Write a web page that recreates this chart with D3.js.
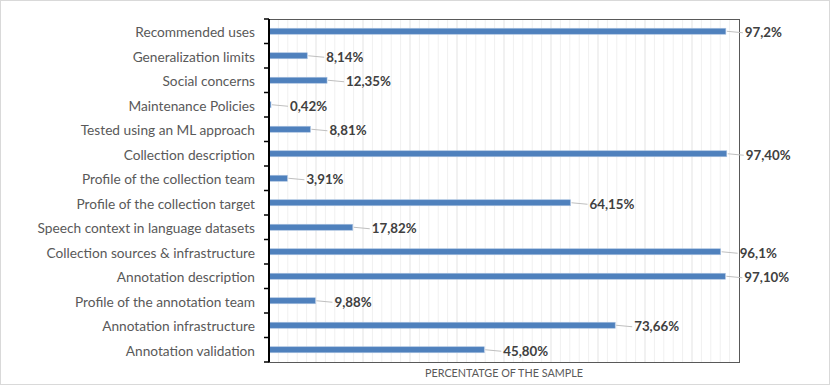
<!DOCTYPE html>
<html><head><meta charset="utf-8">
<script src="https://cdn.jsdelivr.net/npm/d3@7"></script>
<style>body{margin:0;background:#fff}svg{display:block}</style>
</head><body>
<svg id="c" width="830" height="386"></svg>
<script>
const categories = ["Recommended uses","Generalization limits","Social concerns","Maintenance Policies","Tested using an ML approach","Collection description","Profile of the collection team ","Profile of the collection target","Speech context in language datasets","Collection sources & infrastructure","Annotation description","Profile of the annotation team","Annotation infrastructure","Annotation validation"];
const values = [97.2,8.14,12.35,0.42,8.81,97.40,3.91,64.15,17.82,96.1,97.10,9.88,73.66,45.80];
const valueLabels = ["97,2%","8,14%","12,35%","0,42%","8,81%","97,40%","3,91%","64,15%","17,82%","96,1%","97,10%","9,88%","73,66%","45,80%"];
const axisTitle = "PERCENTATGE OF THE SAMPLE";

const svg = d3.select("#c");
const W=830,H=386;
const m={left:269,right:739,top:19,bottom:362};
const font="Lato, 'Open Sans', sans-serif";

svg.append("rect").attr("x",0.5).attr("y",0.5).attr("width",W-1).attr("height",H-2)
  .attr("fill","#fff").attr("stroke","#d9d9d9");

const x=d3.scaleLinear().domain([0,100]).range([m.left,m.right]);
const y=d3.scaleBand().domain(categories).range([m.top,m.bottom]);

// gridlines
const minor=d3.range(2,100,2);
svg.append("g").selectAll("line").data(minor).join("line")
  .attr("x1",d=>x(d)).attr("x2",d=>x(d)).attr("y1",m.top).attr("y2",m.bottom)
  .attr("stroke",d=>d%10===0?"#e3e3e3":"#f0f0f0").attr("stroke-width",1);

// plot border
svg.append("rect").attr("x",m.left).attr("y",m.top+0.5).attr("width",m.right-m.left+0.5).attr("height",m.bottom-m.top)
  .attr("fill","none").attr("stroke","#595959").attr("stroke-width",1);

// bars
const bh=6;
svg.append("g").selectAll("rect").data(values).join("rect")
  .attr("x",x(0)).attr("y",(d,i)=>y(categories[i])+y.bandwidth()/2-bh/2)
  .attr("width",d=>x(d)-x(0)).attr("height",bh)
  .attr("fill","#4f81bd").attr("stroke","#a9c1e0").attr("stroke-width",0.6);

// leader lines and labels
const gap=19;
const lg=svg.append("g");
values.forEach((v,i)=>{
  const cy=y(categories[i])+y.bandwidth()/2;
  lg.append("line").attr("x1",x(v)+1).attr("x2",x(v)+gap-2).attr("y1",cy).attr("y2",cy+1.5)
    .attr("stroke","#bfbfbf").attr("stroke-width",1);
  lg.append("text").attr("x",x(v)+gap).attr("y",cy+1.5).attr("dy","0.35em")
    .attr("font-family",font).attr("font-size",13.3).attr("font-weight","bold")
    .attr("fill","#404040").text(valueLabels[i]);
});

// y axis
const ya=svg.append("g").attr("transform",`translate(${m.left},0)`)
  .call(d3.axisLeft(y).tickSize(0).tickPadding(14));
ya.select(".domain").remove();
ya.selectAll("text").attr("font-family",font).attr("font-size",13.7).attr("fill","#595959").attr("dy","0.42em");
// band boundary ticks
svg.append("g").selectAll("line").data(d3.range(categories.length+1)).join("line")
  .attr("x1",m.left-5).attr("x2",m.left)
  .attr("y1",i=>m.top+i*y.step()).attr("y2",i=>m.top+i*y.step())
  .attr("stroke","#000").attr("stroke-width",1.5);
svg.append("line").attr("x1",m.left).attr("x2",m.left).attr("y1",m.top).attr("y2",m.bottom)
  .attr("stroke","#000").attr("stroke-width",2);

svg.append("text").attr("x",(m.left+m.right)/2).attr("y",377).attr("text-anchor","middle")
  .attr("font-family",font).attr("font-size",10.8).attr("fill","#595959").text(axisTitle);
</script>
</body></html>
